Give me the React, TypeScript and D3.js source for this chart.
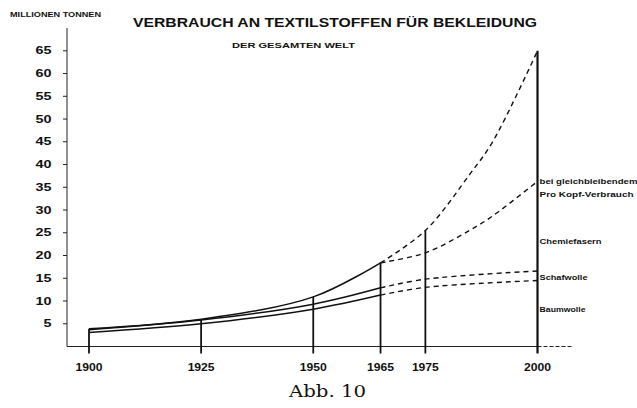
import React from 'react'
import * as d3 from 'd3'

// values (millions of tonnes)
const years = [1900, 1925, 1950, 1965, 1975, 2000]
const baumwolle = [3.1, 5.0, 8.2, 11.3, 13.0, 14.5]
const schafwolle = [0.6, 0.8, 1.1, 1.6, 1.8, 2.1]
const totalYears = [1900, 1925, 1950, 1965, 1975, 1985, 1990, 2000]
const gesamt = [3.9, 6.0, 10.9, 18.4, 25.5, 38, 45, 65]
const proKopfYears = [1965, 1975, 1985, 1990, 2000]
const proKopf = [18.4, 20.6, 25.6, 28.7, 36.3]
const yTicks = [5, 10, 15, 20, 25, 30, 35, 40, 45, 50, 55, 60, 65]
const lastHistoric = 1965

const sideLabels = [
  { text: 'bei gleichbleibendem', value: 36.3, dy: 0, len: 98 },
  { text: 'Pro Kopf-Verbrauch', value: 36.3, dy: 13, len: 94 },
  { text: 'Chemiefasern', value: 23.1, dy: 0, len: 62 },
  { text: 'Schafwolle', value: 15.2, dy: 0, len: 48 },
  { text: 'Baumwolle', value: 8.2, dy: 0, len: 46 },
]

const width = 637
const height = 408
const sans = "'Liberation Sans', Arial, sans-serif"

const x = d3.scaleLinear().domain([1900, 2000]).range([89, 537.5])
const y = d3.scaleLinear().domain([0, 65]).range([346.5, 50.8])

const line = d3
  .line()
  .x(d => x(d[0]))
  .y(d => y(d[1]))
  .curve(d3.curveCatmullRom.alpha(0.5))

const Series = ({ xs, vs }) => {
  const pts = xs.map((t, i) => [t, vs[i]])
  const solid = pts.filter(p => p[0] <= lastHistoric)
  const dashed = pts.filter(p => p[0] >= lastHistoric)
  return (
    <g fill="none" stroke="#111">
      {solid.length > 1 && <path d={line(solid)} strokeWidth={1.5} />}
      {dashed.length > 1 && (
        <path d={line(dashed)} strokeWidth={1.4} strokeDasharray="5,4" />
      )}
    </g>
  )
}

const App = () => {
  const schafTop = baumwolle.map((v, i) => v + schafwolle[i])
  const topAt = t => gesamt[totalYears.indexOf(t)]

  return (
    <svg
      width={width}
      height={height}
      style={{ position: 'absolute', left: 0, top: 0, background: '#fff' }}
    >
      <text x={10} y={16.5} fontFamily={sans} fontWeight="bold" fontSize={7}
        textLength={91} lengthAdjust="spacingAndGlyphs" fill="#111">
        MILLIONEN TONNEN
      </text>
      <text x={133} y={27} fontFamily={sans} fontWeight="bold" fontSize={13.5}
        textLength={404} lengthAdjust="spacingAndGlyphs" fill="#111">
        VERBRAUCH AN TEXTILSTOFFEN FÜR BEKLEIDUNG
      </text>
      <text x={232} y={47.5} fontFamily={sans} fontWeight="bold" fontSize={7}
        textLength={123} lengthAdjust="spacingAndGlyphs" fill="#111">
        DER GESAMTEN WELT
      </text>

      {/* y axis */}
      <line x1={67} x2={67} y1={28} y2={y(0)} stroke="#222" strokeWidth={1} />
      {yTicks.map(t => (
        <g key={t}>
          <line x1={63} x2={67} y1={y(t)} y2={y(t)} stroke="#222" />
          <text x={51.5} y={y(t)} dy="0.36em" textAnchor="end" fontFamily={sans}
            fontWeight="bold" fontSize={10} textLength={String(t).length * 8}
            lengthAdjust="spacingAndGlyphs" fill="#111">
            {t}
          </text>
        </g>
      ))}

      {/* x axis */}
      <line x1={67} x2={x(2000)} y1={y(0)} y2={y(0)} stroke="#222" strokeWidth={1} />
      <line x1={x(2000)} x2={572} y1={y(0)} y2={y(0)} stroke="#222"
        strokeWidth={1} strokeDasharray="4,2" />
      {years.map(t => (
        <text key={t} x={x(t)} y={367} dy="0.36em" textAnchor="middle"
          fontFamily={sans} fontWeight="bold" fontSize={10.5} textLength={27}
          lengthAdjust="spacingAndGlyphs" fill="#111">
          {t}
        </text>
      ))}

      {/* year verticals */}
      {years.map(t => (
        <line key={t} x1={x(t)} x2={x(t)} y1={y(topAt(t))} y2={y(0) + 7}
          stroke="#111" strokeWidth={t === 2000 ? 2.2 : 1.8} />
      ))}

      <Series xs={years} vs={baumwolle} />
      <Series xs={years} vs={schafTop} />
      <Series xs={totalYears} vs={gesamt} />
      <Series xs={proKopfYears} vs={proKopf} />

      {sideLabels.map(l => (
        <text key={l.text} x={539.5} y={y(l.value) + l.dy} dy="0.36em"
          fontFamily={sans} fontWeight="bold" fontSize={7.5} textLength={l.len}
          lengthAdjust="spacingAndGlyphs" fill="#111">
          {l.text}
        </text>
      ))}

      <text x={327.5} y={397} textAnchor="middle" fontFamily="'DejaVu Serif', serif"
        fontSize={16} textLength={77} lengthAdjust="spacingAndGlyphs" fill="#111">
        Abb. 10
      </text>
    </svg>
  )
}

export default App
